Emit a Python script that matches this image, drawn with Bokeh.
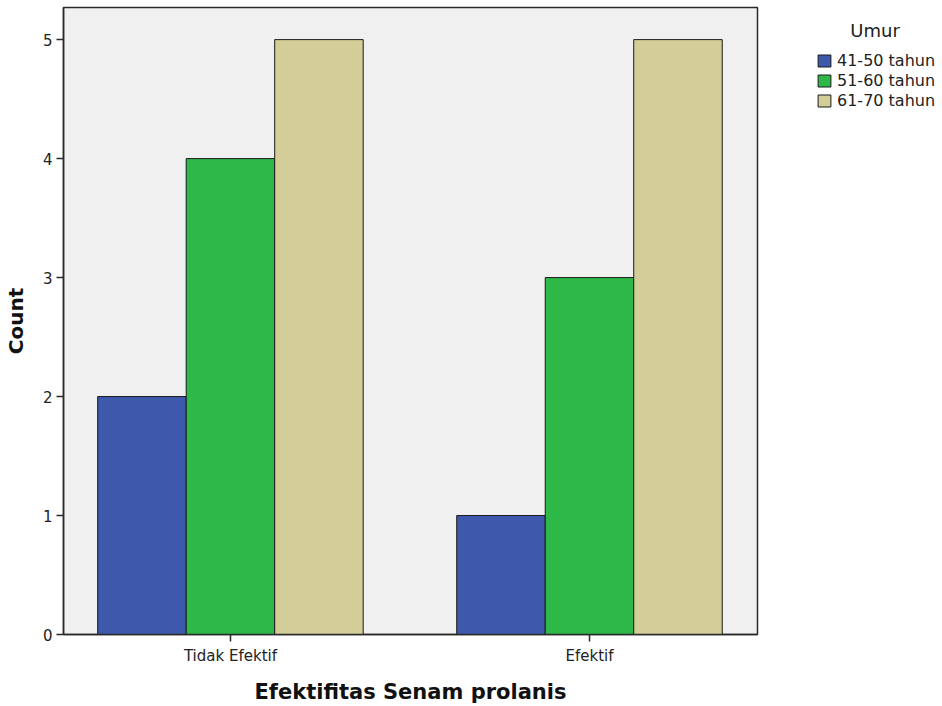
from bokeh.plotting import figure
from bokeh.models import Range1d, FixedTicker, Legend, LegendItem, ColumnDataSource
from bokeh.embed import file_html
from bokeh.resources import INLINE

categories = ["Tidak Efektif", "Efektif"]
groups = ["41-50 tahun", "51-60 tahun", "61-70 tahun"]
counts_41_50 = [2, 1]
counts_51_60 = [4, 3]
counts_61_70 = [5, 5]
colors = ["#3E58AC", "#2EB848", "#D3CE97"]
y_ticks = [0, 1, 2, 3, 4, 5]

FONT = "DejaVu Sans"
bar_w = 0.2465
offsets = [-bar_w, 0.0, bar_w]
series = [counts_41_50, counts_51_60, counts_61_70]

p = figure(frame_width=694, frame_height=627, output_backend="svg", toolbar_location=None,
           x_range=Range1d(-0.465, 1.468), y_range=Range1d(0, 5.27),
           min_border_left=55, min_border_right=177, min_border_top=7, min_border_bottom=10)

p.background_fill_color = "#F0F0F0"
p.border_fill_color = "white"
p.outline_line_color = "#2a2a2a"
p.outline_line_width = 1.5
p.xgrid.visible = False
p.ygrid.visible = False

items = []
idx = list(range(len(categories)))
for g, vals, col, off in zip(groups, series, colors, offsets):
    src = ColumnDataSource(dict(x=[i + off for i in idx], top=vals))
    r = p.vbar(x="x", top="top", width=bar_w, bottom=0, source=src,
               fill_color=col, line_color="#1a1a1a", line_width=1)
    items.append(LegendItem(label=g, renderers=[r]))

p.xaxis.ticker = FixedTicker(ticks=idx)
p.xaxis.major_label_overrides = {i: c for i, c in zip(idx, categories)}
p.yaxis.ticker = FixedTicker(ticks=y_ticks)

for ax in (p.xaxis, p.yaxis):
    ax.axis_line_color = "#2a2a2a"
    ax.axis_line_width = 1.5
    ax.major_tick_line_color = "#2a2a2a"
    ax.major_tick_line_width = 1.5
    ax.major_tick_out = 7
    ax.major_tick_in = 0
    ax.minor_tick_line_color = None
    ax.major_label_text_font = FONT
    ax.major_label_text_font_size = "15px"
    ax.major_label_text_color = "#222222"
    ax.axis_label_text_font = FONT
    ax.axis_label_text_font_style = "bold"
    ax.axis_label_text_color = "#111111"

p.xaxis.axis_label_text_font_size = "21px"
p.yaxis.axis_label_text_font_size = "20px"
p.xaxis.axis_label = "Efektifitas Senam prolanis"
p.yaxis.axis_label = "Count"
p.xaxis.major_label_standoff = 5
p.yaxis.major_label_standoff = 4
p.xaxis.axis_label_standoff = 12
p.yaxis.axis_label_standoff = 12

legend = Legend(items=items, location=(59, 524),
                title="\u00a0\u00a0\u00a0\u00a0\u00a0\u00a0Umur",
                title_text_font=FONT, title_text_font_size="18px",
                title_text_font_style="normal", title_text_color="#222222",
                title_standoff=9,
                label_text_font=FONT, label_text_font_size="16px",
                label_text_color="#222222",
                glyph_width=16, glyph_height=15, label_height=20,
                spacing=0, padding=0, margin=0, label_standoff=5,
                border_line_color=None, background_fill_alpha=0)
p.add_layout(legend, "right")

open("out.html", "w").write(file_html(p, INLINE))
